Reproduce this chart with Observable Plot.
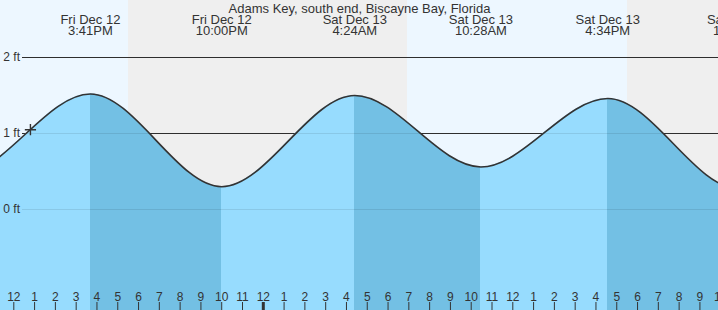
<!DOCTYPE html>
<html><head><meta charset="utf-8">
<script src="https://cdn.jsdelivr.net/npm/d3@7"></script>
<script src="https://cdn.jsdelivr.net/npm/@observablehq/plot@0.6"></script>
<style>body{margin:0;background:#fff} svg{display:block}</style>
</head><body><div id="chart"></div>
<script>
// ---------- data (clock times, handled as UTC) ----------
const title = ["Adams Key, south end, Biscayne Bay, Florida"];
// tide extremes (first and last are off-chart estimates that shape the curve ends)
const tideTimes   = ["2025-12-12T03:10","2025-12-12T09:25","2025-12-12T15:41","2025-12-12T22:00","2025-12-13T04:24","2025-12-13T10:28","2025-12-13T16:34","2025-12-13T22:53","2025-12-14T05:05"];
const tideHeights = [1.40, 0.46, 1.52, 0.30, 1.50, 0.56, 1.46, 0.27, 1.45];
const labeledEventIdx = [2, 3, 4, 5, 6, 7];
// day / night periods
const sunStart = ["2025-12-12T09:00","2025-12-12T17:31","2025-12-13T06:56","2025-12-13T17:31"];
const sunEnd   = ["2025-12-12T17:31","2025-12-13T06:56","2025-12-13T17:31","2025-12-14T01:00"];
const sunKind  = ["day","night","day","night"];
// y axis
const yTicks = [0, 1, 2];
const yTickLabels = ["0 ft", "1 ft", "2 ft"];
// current-time marker
const nowTime = "2025-12-12T12:48";
const nowHeight = 1.05;
// x extent
const xDomain = ["2025-12-12T12:00", "2025-12-13T12:00"];
const hourTickRange = ["2025-12-12T12:00", "2025-12-13T23:30"];

// ---------- build ----------
const parse = s => new Date(s + ":00Z");
const tide = tideTimes.map((t, i) => ({time: parse(t), height: tideHeights[i]}));
const events = labeledEventIdx.map(i => tide[i]);
const sun = sunStart.map((s, i) => ({start: parse(s), end: parse(sunEnd[i]), kind: sunKind[i]}));
const hours = d3.utcHours(parse(hourTickRange[0]), parse(hourTickRange[1]));
const midnights = hours.filter(d => d.getUTCHours() === 0);
const fmtHour = d => String(d.getUTCHours() % 12 || 12);
const fmtDay = d3.utcFormat("%a %b %-d");
const fmtTime = d3.utcFormat("%-I:%M%p");

const COLORS = {day: "#edf7ff", night: "#efefef", rising: "#97dcfe", falling: "#73c0e4", ink: "#333"};
const FONT = "'Liberation Sans', Arial, Helvetica, sans-serif";

const plot = Plot.plot({
  width: 718, height: 310,
  marginTop: 0, marginRight: 0, marginBottom: 0, marginLeft: 0,
  x: {type: "utc", domain: xDomain.map(parse), range: [13.3, 512.3], axis: null},
  y: {domain: [0, 2], range: [209, 57], axis: null},
  style: {fontFamily: FONT, fontSize: "13px", color: COLORS.ink, background: "#fff", overflow: "hidden"},
  marks: [
    Plot.rect(sun, {x1: "start", x2: "end", fill: d => COLORS[d.kind]}),
    Plot.ruleY(yTicks, {y: d => d, stroke: COLORS.ink, strokeWidth: 1, insetLeft: 22}),
    Plot.areaY(tide, {x: "time", y1: -1.6, y2: "height", curve: "monotone-x", fill: "url(#tideFill)", clip: true}),
    Plot.ruleY(yTicks, {y: d => d, stroke: "#000", strokeOpacity: 0.09, strokeWidth: 1, insetLeft: 22}),
    Plot.line(tide, {x: "time", y: "height", curve: "monotone-x", stroke: COLORS.ink, strokeWidth: 1.6, clip: true}),
    Plot.dot([{time: parse(nowTime), height: nowHeight}], {x: "time", y: "height", symbol: "plus", r: 3.7, stroke: COLORS.ink, strokeWidth: 1.4, fill: "none"}),
    Plot.text(yTicks, {y: d => d, text: (d, i) => yTickLabels[i], frameAnchor: "left", dx: 19.5, textAnchor: "end", lineAnchor: "middle", fontSize: 12, fill: COLORS.ink}),
    Plot.tickX(hours, {x: d => d, insetTop: 302, stroke: COLORS.ink, strokeWidth: 1}),
    Plot.tickX(midnights, {x: d => d, insetTop: 302, stroke: COLORS.ink, strokeWidth: 3}),
    Plot.text(hours, {x: d => d, text: fmtHour, frameAnchor: "bottom", dy: -10, lineAnchor: "bottom", fontSize: 12, fill: COLORS.ink}),
    Plot.text(events, {x: "time", text: d => fmtDay(d.time) + "\n" + fmtTime(d.time), frameAnchor: "top", lineAnchor: "top", dy: 15.5, lineHeight: 0.86, fill: COLORS.ink}),
    Plot.text(title, {text: d => d, frameAnchor: "top", lineAnchor: "top", dy: 3, fill: COLORS.ink})
  ]
});

// gradient for rising / falling fill, positioned with the plot's x scale
const xs = plot.scale("x");
const ns = "http://www.w3.org/2000/svg";
const defs = document.createElementNS(ns, "defs");
const grad = document.createElementNS(ns, "linearGradient");
const gx0 = xs.apply(tide[0].time), gx1 = xs.apply(tide[tide.length - 1].time);
grad.setAttribute("id", "tideFill");
grad.setAttribute("gradientUnits", "userSpaceOnUse");
grad.setAttribute("x1", gx0); grad.setAttribute("x2", gx1);
grad.setAttribute("y1", 0); grad.setAttribute("y2", 0);
for (let i = 0; i < tide.length - 1; i++) {
  const c = tide[i + 1].height > tide[i].height ? COLORS.rising : COLORS.falling;
  const o0 = (xs.apply(tide[i].time) - gx0) / (gx1 - gx0);
  const o1 = (xs.apply(tide[i + 1].time) - gx0) / (gx1 - gx0);
  for (const o of [o0, o1]) {
    const s = document.createElementNS(ns, "stop");
    s.setAttribute("offset", o);
    s.setAttribute("stop-color", c);
    grad.appendChild(s);
  }
}
defs.appendChild(grad);
plot.insertBefore(defs, plot.firstChild);
document.getElementById("chart").appendChild(plot);
</script>
</body></html>
